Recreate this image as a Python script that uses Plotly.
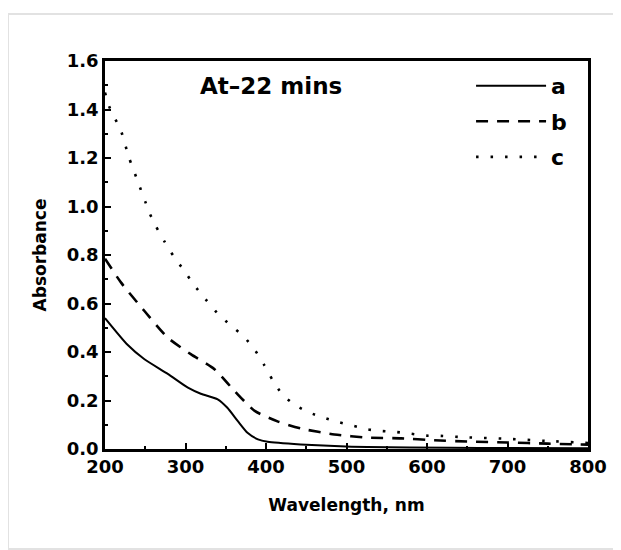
import plotly.graph_objects as go

# Wavelength (nm) and absorbance
wl_a = [200, 228, 249, 278, 303, 319, 340, 352, 365, 377, 390, 402, 443, 485, 526, 630, 700, 800]
abs_a = [0.54, 0.43, 0.37, 0.31, 0.253, 0.228, 0.205, 0.17, 0.115, 0.067, 0.04, 0.03, 0.019, 0.012, 0.008, 0.005, 0.004, 0.003]

wl_b = [200, 220, 249, 278, 307, 336, 361, 386, 415, 444, 485, 526, 568, 609, 650, 700, 750, 800]
abs_b = [0.785, 0.686, 0.569, 0.459, 0.39, 0.329, 0.239, 0.157, 0.113, 0.084, 0.06, 0.047, 0.044, 0.036, 0.031, 0.027, 0.022, 0.018]

wl_c = [200, 205, 216, 220, 230, 240, 250, 255, 263, 274, 285, 298, 310, 325, 339, 356, 373, 387, 398, 408,
        420, 436, 454, 472, 490, 509, 526, 544, 562, 580, 599, 617, 650, 700, 750, 800]
abs_c = [1.47, 1.414, 1.339, 1.311, 1.2, 1.11, 1.02, 0.975, 0.92, 0.855, 0.796, 0.737, 0.679, 0.617, 0.562, 0.51,
         0.462, 0.404, 0.345, 0.285, 0.226, 0.181, 0.15, 0.129, 0.111, 0.095, 0.081, 0.074, 0.07, 0.063, 0.055,
         0.054, 0.048, 0.042, 0.033, 0.025]

series_names = ["a", "b", "c"]
x_ticks = [200, 300, 400, 500, 600, 700, 800]
y_ticks = [0.0, 0.2, 0.4, 0.6, 0.8, 1.0, 1.2, 1.4, 1.6]

FONT = "DejaVu Sans"

fig = go.Figure()
fig.add_trace(go.Scatter(x=wl_a, y=abs_a, mode="lines", name=series_names[0], legendgroup="a",
                         line=dict(color="black", width=2, shape="spline", smoothing=0.6)))
fig.add_trace(go.Scatter(x=wl_b, y=abs_b, mode="lines", name=series_names[1], legendgroup="b",
                         line=dict(color="black", width=2.6, dash="12px,9px", shape="spline", smoothing=0.6)))
fig.add_trace(go.Scatter(x=wl_c, y=abs_c, mode="lines", name=series_names[2], legendgroup="c",
                         line=dict(color="black", width=2.6, dash="2.5px,12px", shape="spline", smoothing=0.6)))

axis_common = dict(
    showgrid=False, zeroline=False, showline=True, linecolor="black", linewidth=2.5,
    mirror=True, ticks="inside", ticklen=6, tickwidth=1.8, tickcolor="black",
    tickfont=dict(family=FONT, size=18, color="black", weight="bold"),
)

fig.update_xaxes(
    range=[200, 800], tickvals=x_ticks, ticktext=[str(v) for v in x_ticks],
    minor=dict(dtick=50, ticks="inside", ticklen=3, tickwidth=1.5, tickcolor="black"),
    title=dict(text="Wavelength, nm", font=dict(family=FONT, size=17, color="black", weight="bold"), standoff=23),
    **axis_common,
)
fig.update_yaxes(
    range=[0, 1.6], tickvals=y_ticks, ticktext=[f"{v:.1f}" for v in y_ticks],
    minor=dict(dtick=0.1, ticks="inside", ticklen=3, tickwidth=1.5, tickcolor="black"),
    title=dict(text="Absorbance", font=dict(family=FONT, size=17, color="black", weight="bold"), standoff=16),
    **axis_common,
)

fig.add_annotation(
    text="At\u201322 mins", xref="paper", yref="paper", x=0.344, y=0.936,
    showarrow=False, xanchor="center", yanchor="middle",
    font=dict(family=FONT, size=23, color="black", weight="bold"),
)

# light grey outer frame of the figure
fig.add_shape(type="rect", xref="paper", yref="paper", x0=-0.2008, x1=1.09, y0=-0.2577, y1=1.121,
              line=dict(color="#e2e2e2", width=2), layer="below")

fig.update_layout(
    width=621, height=550,
    margin=dict(l=97, r=41, t=53, b=109),
    paper_bgcolor="white", plot_bgcolor="white",
    showlegend=True,
    legend=dict(
        x=0.967, y=0.99, xanchor="right", yanchor="top",
        bgcolor="rgba(0,0,0,0)", borderwidth=0,
        font=dict(family=FONT, size=22, color="black", weight="bold"),
        tracegroupgap=4, itemwidth=70,
    ),
)

fig.write_html("out.html")
